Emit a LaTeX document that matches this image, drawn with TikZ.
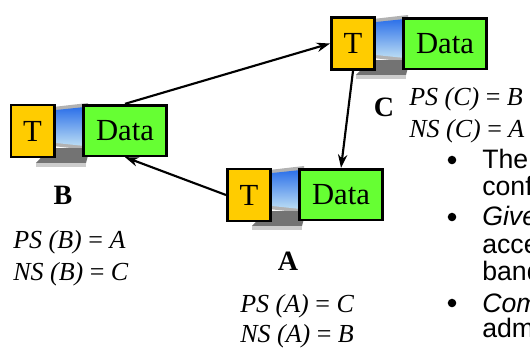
\documentclass[tikz,border=0pt]{standalone}
\usepackage{fontspec}
\setmainfont{Liberation Serif}
\newfontfamily\notefont{Liberation Sans}
\usepackage{tikz}
\usetikzlibrary{arrows.meta}
\usepackage{xcolor}
\definecolor{tokencol}{HTML}{FFCC00}
\definecolor{datacol}{HTML}{66FF33}
\definecolor{screencol}{HTML}{3FA0E0}

\tikzset{
  tbox/.style={draw=black, fill=tokencol, line width=2pt, inner sep=0pt,
    minimum width=32.5pt, minimum height=39.2pt, font=\fontsize{23}{27}\selectfont},
  databox/.style={draw=black, fill=datacol, line width=2pt, inner sep=0pt,
    minimum width=62.5pt, minimum height=38pt, font=\fontsize{23}{27}\selectfont},
  hostname/.style={font=\fontsize{21}{25}\selectfont\bfseries},
  ptrtext/.style={anchor=base west, inner sep=0pt, font=\fontsize{19.5}{23}\selectfont},
  notetext/.style={anchor=base west, inner sep=0pt, font=\notefont\fontsize{20}{24}\selectfont},
  ring/.style={-{Stealth[length=10pt,width=7pt]}, line width=1.6pt}
}

% laptop behind the two boxes, shifted to the token's top right corner
\newcommand{\laptop}[1]{%
  \begin{scope}[shift={#1}]
    \fill[black!30] (-3,3) -- (32,-1) -- (32,46) -- (-3,42) -- cycle;
    \shade[top color=screencol!70!blue, bottom color=screencol!35!white]
      (0,6) -- (29,3) -- (29,42) -- (0,39) -- cycle;
    \fill[black!55] (-20,59) -- (30,59) -- (34,44) -- (-6,44) -- cycle;
    \fill[black!20] (-20,59) -- (30,59) -- (30,63) -- (-20,63) -- cycle;
  \end{scope}}

\begin{document}
\begin{tikzpicture}[x=0.75pt, y=-0.75pt]
    \useasboundingbox (0,0) rectangle (530,347);
    % Laptops
    \laptop{(376,16)}
    \laptop{(56,104)}
    \laptop{(272,167)}
    % Estacoes
    \node[tbox] (tc) at (353,43.5) {T};
    \node[databox] (dc) at (445,43.5) {Data};
    \node[tbox] (tb) at (32.5,131) {T};
    \node[databox] (db) at (125,130.5) {Data};
    \node[tbox] (ta) at (249,195) {T};
    \node[databox] (da) at (341,194.5) {Data};
    % Anel logico
    \draw[ring] (db.north) -- (tc.west);
    \draw[ring] (tc.south) -- (da.north);
    \draw[ring] (ta.west) -- (db.south);
    % Nomes
    \node[hostname] (nc) at (384,107) {C};
    \node[hostname] (nb) at (63,195) {B};
    \node[hostname] (na) at (288,261) {A};
    % Predecessor e sucessor
    \node[ptrtext] (psc) at (409,105) {\textit{PS (C)} = \textit{B}};
    \node[ptrtext] (nsc) at (409,137) {\textit{NS (C)} = \textit{A}};
    \node[ptrtext] (psb) at (13,248) {\textit{PS (B)} = \textit{A}};
    \node[ptrtext] (nsb) at (13,280) {\textit{NS (B)} = \textit{C}};
    \node[ptrtext] (psa) at (240,312) {\textit{PS (A)} = \textit{C}};
    \node[ptrtext] (nsa) at (240,342) {\textit{NS (A)} = \textit{B}};
    % Texto cortado
    \fill (452,160) circle (3.2pt);
    \fill (452,217) circle (3.2pt);
    \fill (452,303) circle (3.2pt);
    \node[notetext] (l1) at (482,168) {The};
    \node[notetext] (l2) at (482,195) {conf};
    \node[notetext] (l3) at (482,225) {\itshape Give};
    \node[notetext] (l4) at (482,253) {acce};
    \node[notetext] (l5) at (482,280) {band};
    \node[notetext] (l6) at (482,312) {\itshape Com};
    \node[notetext] (l7) at (482,337) {adm};
\end{tikzpicture}
\end{document}
